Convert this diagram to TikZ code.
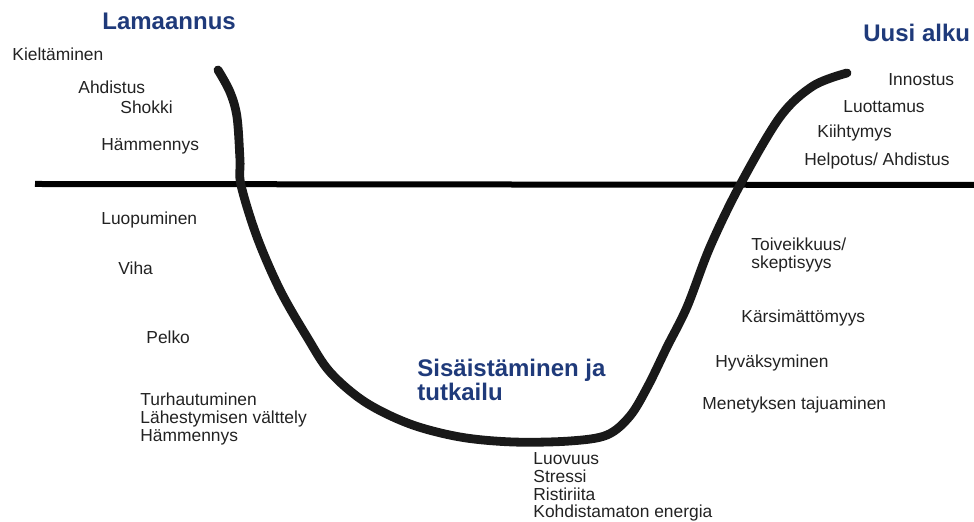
\documentclass[tikz,border=0pt]{standalone}
\usepackage{fontspec}
\setmainfont{Liberation Sans}
\usetikzlibrary{positioning}
\definecolor{phaseBlue}{HTML}{1F3A7A}
\definecolor{textGray}{HTML}{222222}

\begin{document}
\begin{tikzpicture}[
    x=0.5pt, y=-0.5pt,
    font=\fontsize{8.7}{8.9}\selectfont,
    feeling/.style={anchor=west, inner sep=0pt, align=left, text=textGray},
    phase/.style={anchor=west, inner sep=0pt, align=left, text=phaseBlue, font=\fontsize{12}{12}\selectfont\bfseries},
    axisline/.style={line width=3pt},
    ucurve/.style={line width=4.4pt, line cap=round, line join=round, draw=black!90}
]
\useasboundingbox (0,0) rectangle (974,522);

% horizontal line
\coordinate (axisL) at (35,184);
\coordinate (axisR) at (974,185);
\draw[axisline] (axisL) -- (axisR);

% the U curve
\draw[ucurve] plot[smooth, tension=0.55] coordinates {
    (218,70) (230,92) (237,117) (240,160) (241,185) (257,237) (280,290)
    (307,337) (330,372) (365,402) (410,424) (460,437) (513,442) (570,441)
    (607,435) (630,416) (648,386) (667,347) (687,307) (710,247) (740,185)
    (780,117) (813,86) (847,73)};

% phases
\node[phase] (lama) at (102,21) {Lamaannus};
\node[phase] (uusi) at (863,33) {Uusi alku};
\node[phase] (sisa) at (417,380) {Sis\"aist\"aminen ja\\tutkailu};

% left side
\node[feeling] (kielt) at (12,54) {Kielt\"aminen};
\node[feeling] (ahd) at (78,87) {Ahdistus};
\node[feeling] (shokki) at (120,107) {Shokki};
\node[feeling] (hamm) at (101,146) {H\"ammennys};
\node[feeling] (luop) at (101,220) {Luopuminen};
\node[feeling] (viha) at (118,268) {Viha};
\node[feeling] (pelko) at (146,337) {Pelko};
\node[feeling] (turh) at (140,419) {Turhautuminen\\L\"ahestymisen v\"alttely\\H\"ammennys};

% bottom
\node[feeling] (luov) at (533,487) {Luovuus\\Stressi\\Ristiriita\\Kohdistamaton energia};

% right side
\node[feeling] (inno) at (888,80) {Innostus};
\node[feeling] (luott) at (843,107) {Luottamus};
\node[feeling] (kiiht) at (817,133) {Kiihtymys};
\node[feeling] (helpo) at (804,161) {Helpotus/ Ahdistus};
\node[feeling] (toiv) at (751,255) {Toiveikkuus/\\skeptisyys};
\node[feeling] (kars) at (741,318) {K\"arsim\"att\"omyys};
\node[feeling] (hyva) at (715,363) {Hyv\"aksyminen};
\node[feeling] (mene) at (702,405) {Menetyksen tajuaminen};

\end{tikzpicture}
\end{document}
